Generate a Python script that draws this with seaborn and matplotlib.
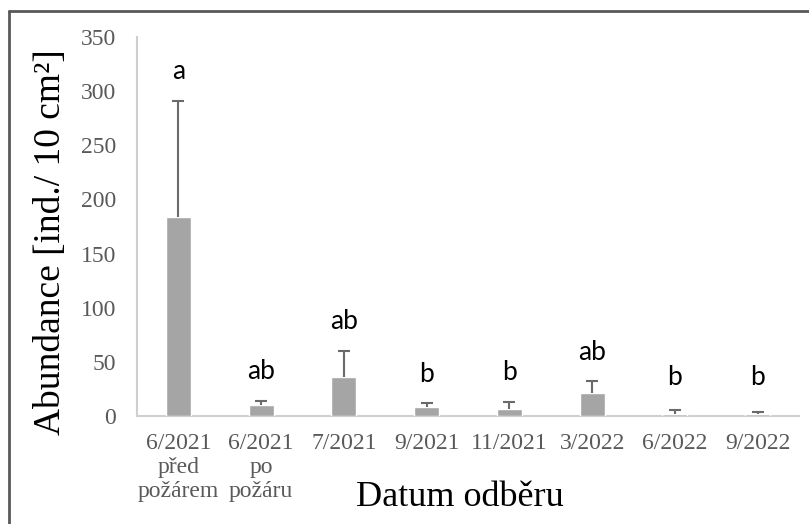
import numpy as np
import pandas as pd
import matplotlib.pyplot as plt
from matplotlib.lines import Line2D
import seaborn as sns

# Abundance per sampling date (mean + SD), letters = significance groups
dates = ['6/2021\npřed\npožárem', '6/2021\npo\npožáru', '7/2021', '9/2021',
         '11/2021', '3/2022', '6/2022', '9/2022']
abundance = [184, 10, 36, 8, 6.5, 21, 2, 1.8]
sd = [107, 4, 24, 3.7, 6.5, 11, 3.8, 1.6]
letters = ['a', 'ab', 'ab', 'b', 'b', 'ab', 'b', 'b']

df = pd.DataFrame({'datum': dates, 'abundance': abundance, 'sd': sd})

sns.set_style('white')
plt.rcParams['font.family'] = ['Liberation Serif', 'DejaVu Serif']

fig = plt.figure(figsize=(8.09, 5.24), dpi=100)
ax = fig.add_axes([137 / 809, 108 / 524, 662 / 809, 379 / 524])

sns.barplot(data=df, x='datum', y='abundance', color='#a5a5a5',
            width=0.30, saturation=1, ax=ax, zorder=3)

xs = [p.get_x() + p.get_width() / 2 for p in ax.patches]
_, caps, _ = ax.errorbar(xs, df['abundance'], yerr=[np.zeros(len(df)), df['sd']],
                         fmt='none', ecolor='#6a6a6a', elinewidth=1.5,
                         capsize=4.5, capthick=1.5, zorder=4)
caps[0].set_visible(False)  # only the upper whisker, as in the original

for x, top, lab in zip(xs, df['abundance'] + df['sd'], letters):
    ax.text(x, max(top + 27, 36), lab, ha='center', va='center',
            fontsize=19, family=['Lato', 'DejaVu Sans'], color='black')

ax.set_xlim(-0.5, 7.5)
ax.set_ylim(0, 350)
ax.set_yticks(range(0, 351, 50))
ax.tick_params(axis='both', length=0, labelsize=17, colors='#595959')
ax.tick_params(axis='x', pad=12)
ax.tick_params(axis='y', pad=15)

for side in ['top', 'right']:
    ax.spines[side].set_visible(False)
for side in ['left', 'bottom']:
    ax.spines[side].set_color('#cfcfcf')
    ax.spines[side].set_linewidth(1.5)

ax.set_xlabel('Datum odběru', fontsize=26, color='black', va='center')
ax.set_ylabel('Abundance [ind./ 10 cm²]', fontsize=27, color='black', va='center')
ax.xaxis.set_label_coords(0.488, -0.216)
ax.yaxis.set_label_coords(-0.131, 0.46)

# frame of the cropped figure (only top and left visible)
fig.add_artist(Line2D([9 / 809, 1], [1 - 11 / 524, 1 - 11 / 524],
                      transform=fig.transFigure, color='#595959', lw=2))
fig.add_artist(Line2D([9 / 809, 9 / 809], [0, 1 - 11 / 524],
                      transform=fig.transFigure, color='#595959', lw=2))

plt.savefig('out.png', dpi=100)
plt.close()
